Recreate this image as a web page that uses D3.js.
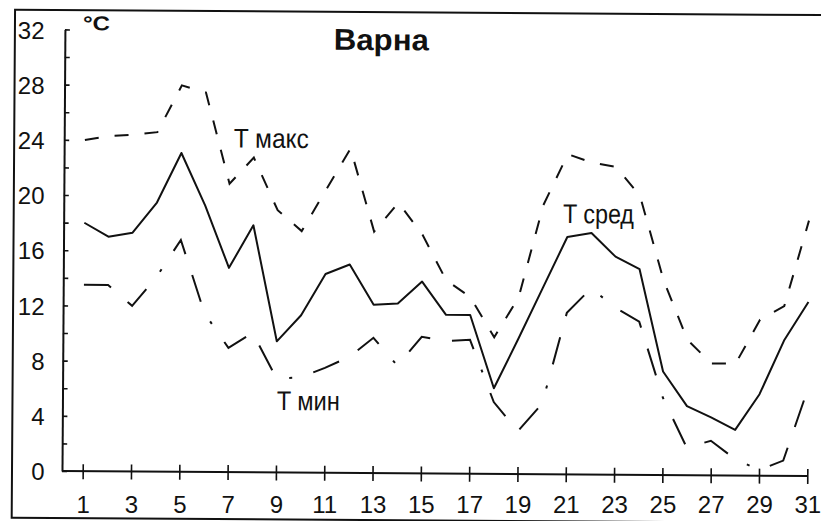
<!DOCTYPE html>
<html>
<head>
<meta charset="utf-8">
<script src="https://cdn.jsdelivr.net/npm/d3@7"></script>
<style>
  html, body { margin: 0; padding: 0; background: #fff; }
  svg { display: block; }
</style>
</head>
<body>
<svg id="chart" width="821" height="521"></svg>
<script>
// ---- data ----
const days = d3.range(1, 32);
const tMax = [24.0, 24.3, 24.4, 24.6, 28.0, 27.5, 20.9, 22.8, 19.0, 17.5, 20.5, 23.5, 17.5, 19.6, 17.3, 14.0,
              12.8, 9.9, 12.8, 19.5, 23.2, 22.6, 22.3, 20.2, 14.1, 9.8, 8.1, 8.1, 11.3, 12.3, 18.5];
const tAvg = [18.0, 17.0, 17.3, 19.5, 23.1, 19.3, 14.8, 17.9, 9.5, 11.4, 14.4, 15.1, 12.2, 12.3, 13.9, 11.5,
              11.5, 6.2, 9.8, 13.5, 17.2, 17.5, 15.8, 14.9, 7.5, 5.0, 4.2, 3.3, 5.9, 9.8, 12.6];
const tMin = [13.5, 13.5, 12.0, 14.1, 16.8, 11.5, 9.0, 10.1, 6.8, 6.9, 7.6, 8.4, 9.8, 7.8, 9.9, 9.6,
              9.7, 5.2, 3.1, 5.1, 11.7, 13.5, 12.1, 11.1, 5.6, 2.0, 2.5, 1.2, 0.4, 1.1, 6.3];
const yTicks = d3.range(0, 33, 2);
const yLabels = [0, 4, 8, 12, 16, 20, 24, 28, 32];
const xLabels = d3.range(1, 32, 2);
const title = "Варна";
const unit = "°C";
const seriesLabels = ["T макс", "T сред", "T мин"];

// ---- layout ----
const svg = d3.select("#chart");
const originX = 62, originY = 471;
const x = d3.scaleLinear().domain([1, 31]).range([82.7, 807.3]);
const y = d3.scaleLinear().domain([0, 32]).range([originY, 29.4]);
const ink = "#111";
const font = "Liberation Sans, Arial, Helvetica, sans-serif";
const narrow = "Liberation Sans Narrow, Arial Narrow, Liberation Sans, Arial, sans-serif";

// the scanned sheet is slightly tilted
const g = svg.append("g").attr("transform", `rotate(0.38, ${originX}, ${originY})`);

// frame
g.append("rect").attr("x", 12).attr("y", 10).attr("width", 830).attr("height", 508)
  .attr("fill", "none").attr("stroke", ink).attr("stroke-width", 2);

// y axis (line + ticks)
const ya = g.append("g").attr("transform", `translate(${originX},0)`)
  .call(d3.axisLeft(y).tickValues(yTicks).tickSizeInner(-5).tickSizeOuter(0).tickFormat(() => ""));
ya.select(".domain").attr("stroke", ink).attr("stroke-width", 2);
ya.selectAll(".tick line").attr("stroke", ink).attr("stroke-width", 1.6);

// y tick labels
const yl = svg.append("g").attr("transform", `translate(${originX},0)`)
  .call(d3.axisLeft(y).tickValues(yLabels).tickSize(0).tickPadding(17.5));
yl.select(".domain").remove();
yl.selectAll(".tick text").attr("font-family", font).attr("font-size", 24).attr("fill", ink).attr("dy", "0.36em");

// x axis (line + ticks)
const xa = g.append("g").attr("transform", `translate(0,${originY})`)
  .call(d3.axisBottom(x).tickValues(xLabels).tickSizeOuter(0).tickFormat(() => ""));
xa.select(".domain").remove();
xa.append("line").attr("x1", originX).attr("x2", x(31)).attr("y1", 0).attr("y2", 0)
  .attr("stroke", ink).attr("stroke-width", 2);
xa.selectAll(".tick line").attr("y1", -7).attr("y2", 8).attr("stroke", ink).attr("stroke-width", 1.6);

// x tick labels
const xl = svg.append("g").attr("transform", `translate(0,${originY})`)
  .call(d3.axisBottom(x).tickValues(xLabels).tickSize(0));
xl.select(".domain").remove();
xl.selectAll(".tick text").attr("font-family", font).attr("font-size", 24).attr("fill", ink)
  .attr("y", 42).attr("dy", 0);

// lines
const line = arr => d3.line().x((d, i) => x(days[i])).y(d => y(d))(arr);
g.append("path").attr("d", line(tMax)).attr("fill", "none").attr("stroke", ink)
  .attr("stroke-width", 2).attr("stroke-dasharray", "14,16");
g.append("path").attr("d", line(tAvg)).attr("fill", "none").attr("stroke", ink)
  .attr("stroke-width", 2).attr("stroke-linejoin", "round");
g.append("path").attr("d", line(tMin)).attr("fill", "none").attr("stroke", ink)
  .attr("stroke-width", 2).attr("stroke-dasharray", "28,22,28,22,3,22");

// texts
g.append("text").attr("x", 80).attr("y", 30).text(unit)
  .attr("font-family", font).attr("font-weight", "bold")
  .attr("font-size", 20).attr("fill", ink).attr("textLength", 27).attr("lengthAdjust", "spacingAndGlyphs");
g.append("text").attr("x", 331).attr("y", 48).text(title)
  .attr("font-family", font).attr("font-weight", "bold")
  .attr("font-size", 30).attr("fill", ink).attr("textLength", 95).attr("lengthAdjust", "spacingAndGlyphs");

const labelPos = [
  { x: 231.6, y: 146.4, len: 75 },
  { x: 561.3, y: 219.7, len: 71 },
  { x: 276.3, y: 408.6, len: 63 }
];
g.selectAll(".slabel").data(seriesLabels).enter().append("text").attr("class", "slabel")
  .attr("x", (d, i) => labelPos[i].x).attr("y", (d, i) => labelPos[i].y).text(d => d)
  .attr("font-family", narrow).attr("font-size", 27).attr("fill", ink)
  .attr("textLength", (d, i) => labelPos[i].len).attr("lengthAdjust", "spacingAndGlyphs");
</script>
</body>
</html>
